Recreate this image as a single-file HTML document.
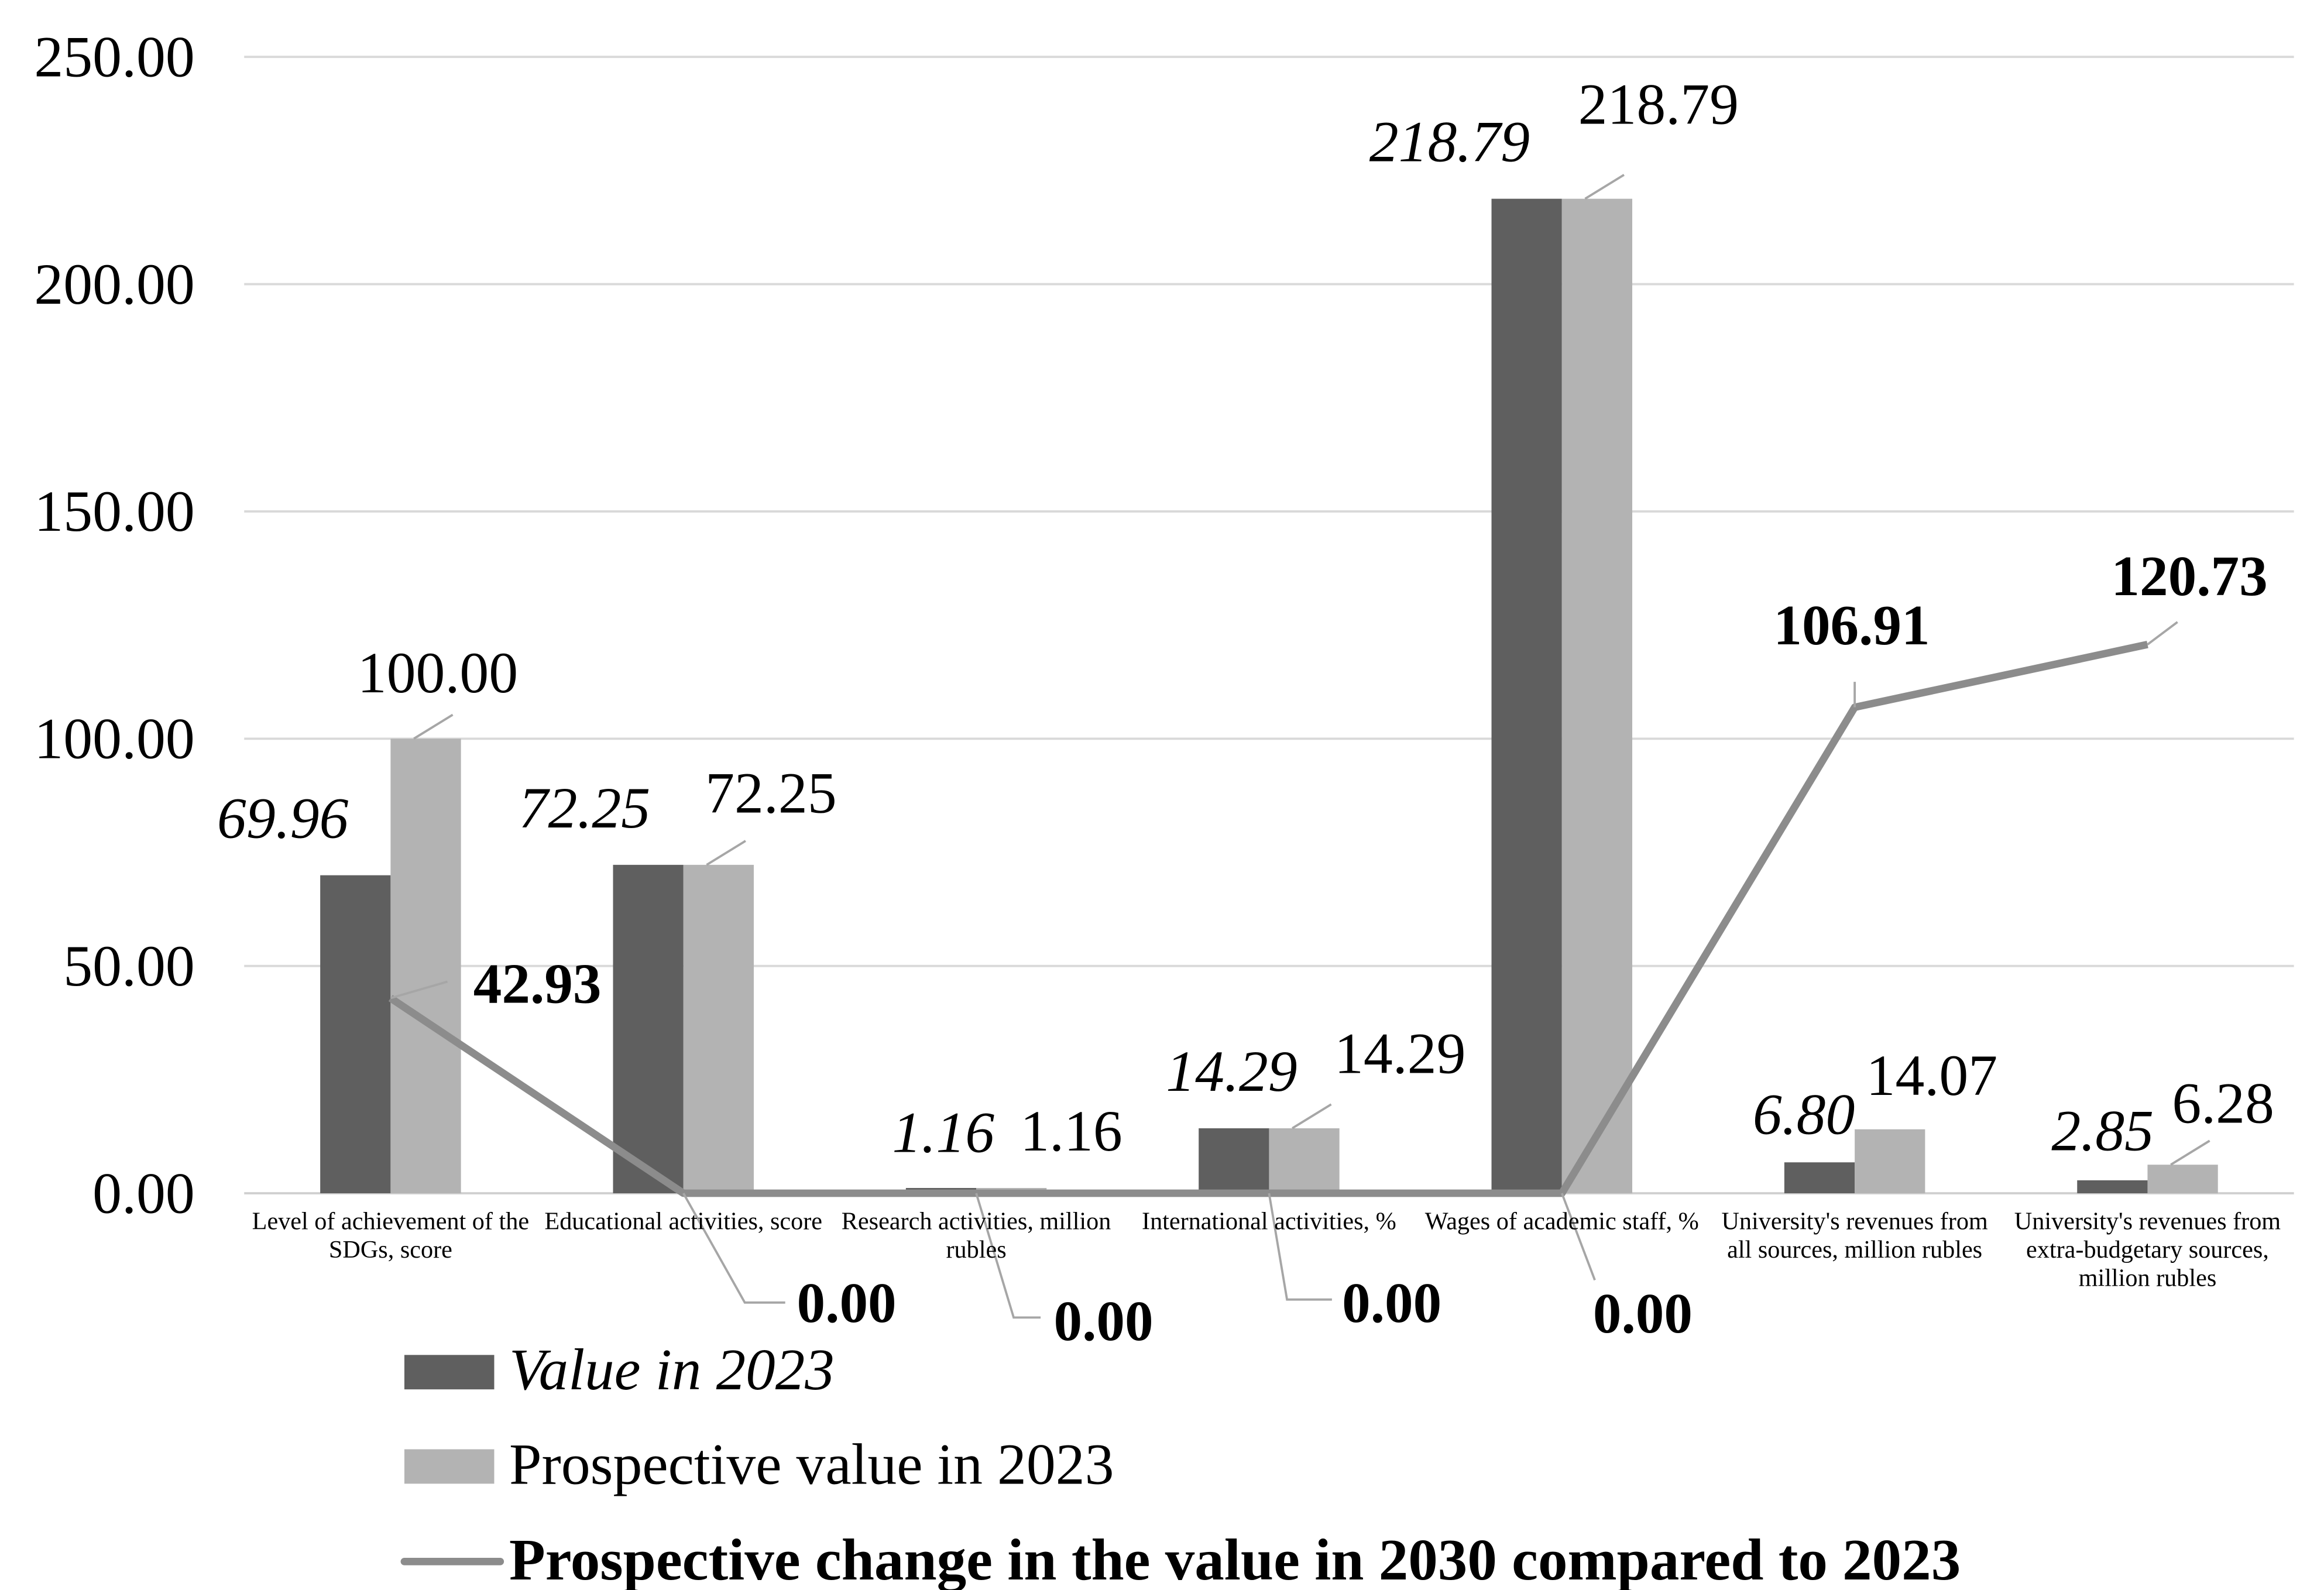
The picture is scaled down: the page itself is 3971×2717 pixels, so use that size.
<!DOCTYPE html>
<html><head><meta charset="utf-8"><style>
html,body{margin:0;padding:0;background:#fff;}
svg{display:block;font-family:"Liberation Serif",serif;}
</style></head><body>
<svg id="chart" width="3971" height="2717" viewBox="0 0 1552 1062" xmlns="http://www.w3.org/2000/svg">
<g id="grid"></g>
<g id="yticks"></g>
<g id="bars"></g>
<g id="line"></g>
<g id="labels"></g>
<g id="cats"></g>
<g>
  <rect x="270" y="905" width="60" height="23" fill="#5f5f5f"/>
  <text x="340" y="928" font-size="39.5" font-style="italic">Value in 2023</text>
  <rect x="270" y="968" width="60" height="23" fill="#b3b3b3"/>
  <text x="340" y="991" font-size="39">Prospective value in 2023</text>
  <line x1="270" y1="1043" x2="334" y2="1043" stroke="#8c8c8c" stroke-width="5" stroke-linecap="round"/>
  <text x="340" y="1055" font-size="39.5" font-weight="bold">Prospective change in the value in 2030 compared to 2023</text>
</g>
</svg>
<script>
const categories = [
  ["Level of achievement of the","SDGs, score"],
  ["Educational activities, score"],
  ["Research activities, million","rubles"],
  ["International activities, %"],
  ["Wages of academic staff, %"],
  ["University's revenues from","all sources, million rubles"],
  ["University's revenues from","extra-budgetary sources,","million rubles"]
];
const value2023 = [69.96, 72.25, 1.16, 14.29, 218.79, 6.80, 2.85];
const prospective2023 = [100.00, 72.25, 1.16, 14.29, 218.79, 14.07, 6.28];
const change2030 = [42.93, 0.00, 0.00, 0.00, 0.00, 106.91, 120.73];
const yTicks = [0, 50, 100, 150, 200, 250];

const NS = "http://www.w3.org/2000/svg";
const X0 = 163, X1 = 1532, Y0 = 797, YTOP = 38, YMAX = 250;
const cw = (X1 - X0) / categories.length;
const bw = 47;
function y(v){ return Y0 - (v / YMAX) * (Y0 - YTOP); }
function cx(i){ return X0 + cw * (i + 0.5); }
function mk(tag, attrs, parent){
  const e = document.createElementNS(NS, tag);
  for (const k in attrs) e.setAttribute(k, attrs[k]);
  parent.appendChild(e);
  return e;
}
const grid = document.getElementById('grid'), yt = document.getElementById('yticks');
yTicks.forEach(t => {
  const g = mk('line', {x1: X0, x2: X1, y1: y(t), y2: y(t), stroke: t === 0 ? '#d0d0d0' : '#d9d9d9', 'stroke-width': 1.5}, grid);
  
  
  const tx = mk('text', {x: 130, y: y(t) + 13, 'font-size': 39, 'text-anchor': 'end'}, yt);
  tx.textContent = t.toFixed(2);
  
  
});
const bars = document.getElementById('bars');
categories.forEach((c, i) => {
  const b1 = mk('rect', {x: cx(i) - bw, y: y(value2023[i]), width: bw, height: Y0 - y(value2023[i]), fill: '#5f5f5f'}, bars);
  
  
  const b2 = mk('rect', {x: cx(i), y: y(prospective2023[i]), width: bw, height: Y0 - y(prospective2023[i]), fill: '#b3b3b3'}, bars);
  
  
});
const lineG = document.getElementById('line');
const pts = change2030.map((v, i) => cx(i) + ',' + y(v)).join(' ');
const pl = mk('polyline', {points: pts, fill: 'none', stroke: '#8c8c8c', 'stroke-width': 5, 'stroke-linejoin': 'round'}, lineG);



const labels = document.getElementById('labels');
const darkOff = [[-72,-25],[-66,-25],[-22,-24],[-25,-25],[-75,-25],[-34,-19],[-30,-20]];
const lightOff = [[8,-31],[35,-35],[40,-25],[64,-37],[41,-50],[28,-23],[27,-28]];
const lineOff = [[98,-9],[109,74],[85,86],[82,74],[54,81],[-2,-54],[28,-45]];
const leaders = [
  [[0,0],[38,-11]],
  [[0,0],[41,73],[68,73]],
  [[0,0],[25,83],[43,83]],
  [[0,0],[12,71],[42,71]],
  [[0,0],[22,58]],
  [[0,0],[0,-17]],
  [[0,0],[20,-15]]
];
categories.forEach((c, i) => {
  const t1 = mk('text', {x: cx(i) + darkOff[i][0], y: y(value2023[i]) + darkOff[i][1], 'font-size': 39, 'font-style': 'italic', 'text-anchor': 'middle'}, labels);
  t1.textContent = value2023[i].toFixed(2);
  
  
  const t2 = mk('text', {x: cx(i) + bw/2 + lightOff[i][0], y: y(prospective2023[i]) + lightOff[i][1], 'font-size': 39, 'text-anchor': 'middle'}, labels);
  t2.textContent = prospective2023[i].toFixed(2);
  
  
  const t3 = mk('text', {x: cx(i) + lineOff[i][0], y: y(change2030[i]) + lineOff[i][1] + 12, 'font-size': 38, 'font-weight': 'bold', 'text-anchor': 'middle'}, labels);
  t3.textContent = change2030[i].toFixed(2);
  
  
  const lp = mk('polyline', {points: leaders[i].map(p => (cx(i)+p[0]) + ',' + (y(change2030[i])+p[1])).join(' '), fill: 'none', stroke: '#a6a6a6', 'stroke-width': 1.5}, labels);
  
  
});
[0,1,3,4,6].forEach(i => {
  const bx = cx(i) + bw/2 - 4, by = y(prospective2023[i]);
  const l = mk('line', {x1: bx - 4, y1: by, x2: bx + 22, y2: by - 16, stroke: '#a6a6a6', 'stroke-width': 1.5}, labels);
  
  
});
const cats = document.getElementById('cats');
categories.forEach((c, i) => {
  c.forEach((ln, k) => {
    const t = mk('text', {x: cx(i), y: 821 + k * 19, 'font-size': 16.5, 'text-anchor': 'middle'}, cats);
    t.textContent = ln;
    
    
  });
});
</script>
</body></html>
